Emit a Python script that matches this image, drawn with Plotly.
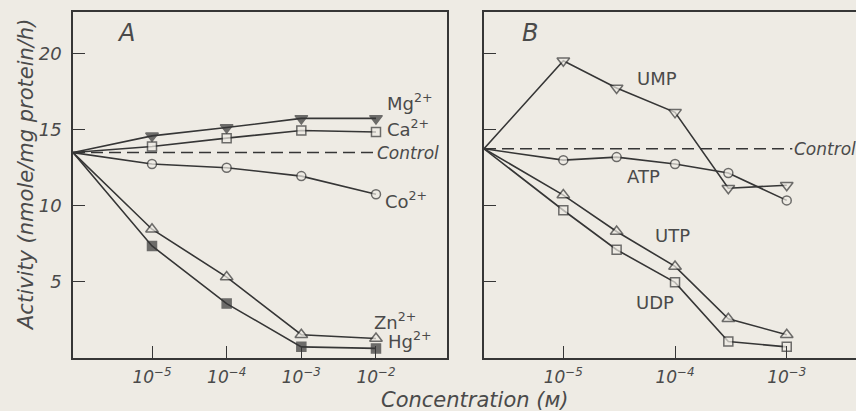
import plotly.graph_objects as go

# ---- Panel A: divalent cations ----
a_conc = [1e-5, 1e-4, 1e-3, 1e-2]
a_control = 13.5
mg = [14.6, 15.15, 15.75, 15.75]
ca = [13.9, 14.45, 14.95, 14.85]
co = [12.75, 12.5, 11.95, 10.75]
zn = [8.45, 5.3, 1.5, 1.25]
hg = [7.35, 3.55, 0.7, 0.6]

# ---- Panel B: nucleotides ----
b_conc = [1e-5, 3e-5, 1e-4, 3e-4, 1e-3]
b_control = 13.75
ump = [19.55, 17.75, 16.15, 11.15, 11.35]
atp = [13.0, 13.2, 12.75, 12.15, 10.35]
utp = [10.7, 8.3, 6.0, 2.55, 1.5]
udp = [9.7, 7.1, 4.95, 1.05, 0.7]

a_xrange = [-6.058, -1.049]   # log10 units
b_xrange = [-5.71, -2.38]
y_range = [0, 22.76]
y_ticks = [5, 10, 15, 20]

BG = "#eeebe4"
INK = "#363636"
TXT = "#4a4a4a"
FONT = "DejaVu Sans, Verdana, sans-serif"

fig = go.Figure()


def series(xs, ys, x0, y0, symbol, filled, xa, ya, size=10):
    x = [10 ** x0] + list(xs)
    y = [y0] + list(ys)
    fig.add_trace(go.Scatter(
        x=x, y=y, mode="lines+markers", xaxis=xa, yaxis=ya,
        line=dict(color=INK, width=1.6),
        marker=dict(symbol=symbol, size=[0] + [size] * len(xs),
                    color=INK if filled else BG,
                    line=dict(color=INK, width=1.5)),
        showlegend=False, hoverinfo="skip"))


def control(x0, x1, y, xa, ya):
    fig.add_trace(go.Scatter(
        x=[10 ** x0, 10 ** x1], y=[y, y], mode="lines", xaxis=xa, yaxis=ya,
        line=dict(color=INK, width=1.4, dash="12px,6px"),
        showlegend=False, hoverinfo="skip"))


# Panel A
control(a_xrange[0], -2.04, a_control, "x", "y")
series(a_conc, mg, a_xrange[0], a_control, "triangle-down", True, "x", "y", 11)
series(a_conc, ca, a_xrange[0], a_control, "square", False, "x", "y", 9)
series(a_conc, co, a_xrange[0], a_control, "circle", False, "x", "y", 9)
series(a_conc, zn, a_xrange[0], a_control, "triangle-up", False, "x", "y", 11)
series(a_conc, hg, a_xrange[0], a_control, "square", True, "x", "y", 9)

# Panel B
control(b_xrange[0], -2.95, b_control, "x2", "y2")
series(b_conc, ump, b_xrange[0], b_control, "triangle-down", False, "x2", "y2", 11)
series(b_conc, atp, b_xrange[0], b_control, "circle", False, "x2", "y2", 9)
series(b_conc, utp, b_xrange[0], b_control, "triangle-up", False, "x2", "y2", 11)
series(b_conc, udp, b_xrange[0], b_control, "square", False, "x2", "y2", 9)

ydom = [(411 - 357.5) / 411, (411 - 12) / 411]

common_x = dict(type="log", showgrid=False, zeroline=False, showline=True,
                linecolor=INK, linewidth=1.5, mirror=True, ticks="inside",
                ticklen=12, tickwidth=1.3, tickcolor=INK, ticklabelstandoff=3,
                tickfont=dict(family=FONT, size=17, color=TXT, style="italic"))
common_y = dict(range=y_range, showgrid=False, zeroline=False, showline=True,
                linecolor=INK, linewidth=1.5, ticks="inside", ticklen=12,
                tickwidth=1.3, tickcolor=INK, tickvals=y_ticks, domain=ydom,
                ticklabelstandoff=6,
                tickfont=dict(family=FONT, size=18, color=TXT, style="italic"))

fig.update_layout(
    width=856, height=411, margin=dict(l=0, r=0, t=0, b=0),
    paper_bgcolor=BG, plot_bgcolor=BG,
    xaxis=dict(common_x, domain=[73 / 856, 447 / 856], range=a_xrange,
               anchor="y", tickvals=[1e-5, 1e-4, 1e-3, 1e-2],
               ticktext=["10<sup>−5</sup>", "10<sup>−4</sup>",
                         "10<sup>−3</sup>", "10<sup>−2</sup>"]),
    yaxis=dict(common_y, anchor="x", mirror=True, ticktext=[str(v) for v in y_ticks]),
    xaxis2=dict(common_x, domain=[484 / 856, 1.0], range=b_xrange,
                anchor="y2", tickvals=[1e-5, 1e-4, 1e-3],
                ticktext=["10<sup>−5</sup>", "10<sup>−4</sup>", "10<sup>−3</sup>"]),
    yaxis2=dict(common_y, anchor="x2", mirror=False, showticklabels=False),
)

labels_a = [
    ("<i>A</i>", -5.5, 21.4, "left", 24),
    ("Mg<sup>2+</sup>", -1.88, 16.8, "left", 18),
    ("Ca<sup>2+</sup>", -1.88, 15.1, "left", 18),
    ("<i>Control</i>", -2.02, a_control, "left", 17),
    ("Co<sup>2+</sup>", -1.9, 10.4, "left", 18),
    ("Zn<sup>2+</sup>", -2.05, 2.4, "left", 18),
    ("Hg<sup>2+</sup>", -1.86, 1.15, "left", 18),
]
for text, x, y, anchor, size in labels_a:
    fig.add_annotation(text=text, x=x, y=y, xref="x", yref="y", showarrow=False,
                       xanchor=anchor, yanchor="middle",
                       font=dict(family=FONT, size=size, color=TXT))

labels_b = [
    ("<i>B</i>", -5.39, 21.4, "left", 24),
    ("UMP", -4.16, 18.4, "center", 18),
    ("<i>Control</i>", -2.95, b_control, "left", 17),
    ("ATP", -4.28, 11.95, "center", 18),
    ("UTP", -4.02, 8.05, "center", 18),
    ("UDP", -4.18, 3.62, "center", 18),
]
for text, x, y, anchor, size in labels_b:
    fig.add_annotation(text=text, x=x, y=y, xref="x2", yref="y2", showarrow=False,
                       xanchor=anchor, yanchor="middle",
                       font=dict(family=FONT, size=size, color=TXT))

fig.add_annotation(text="<i>Activity (nmole/mg protein/h)</i>", textangle=-90,
                   x=26 / 856, y=(411 - 175) / 411, xref="paper", yref="paper",
                   xanchor="center", yanchor="middle",
                   showarrow=False, font=dict(family=FONT, size=21, color=TXT))
fig.add_annotation(text="<i>Concentration (м)</i>",
                   x=474 / 856, y=(411 - 400) / 411, xref="paper", yref="paper",
                   xanchor="center", yanchor="middle",
                   showarrow=False, font=dict(family=FONT, size=21, color=TXT))

fig.write_html("out.html")
